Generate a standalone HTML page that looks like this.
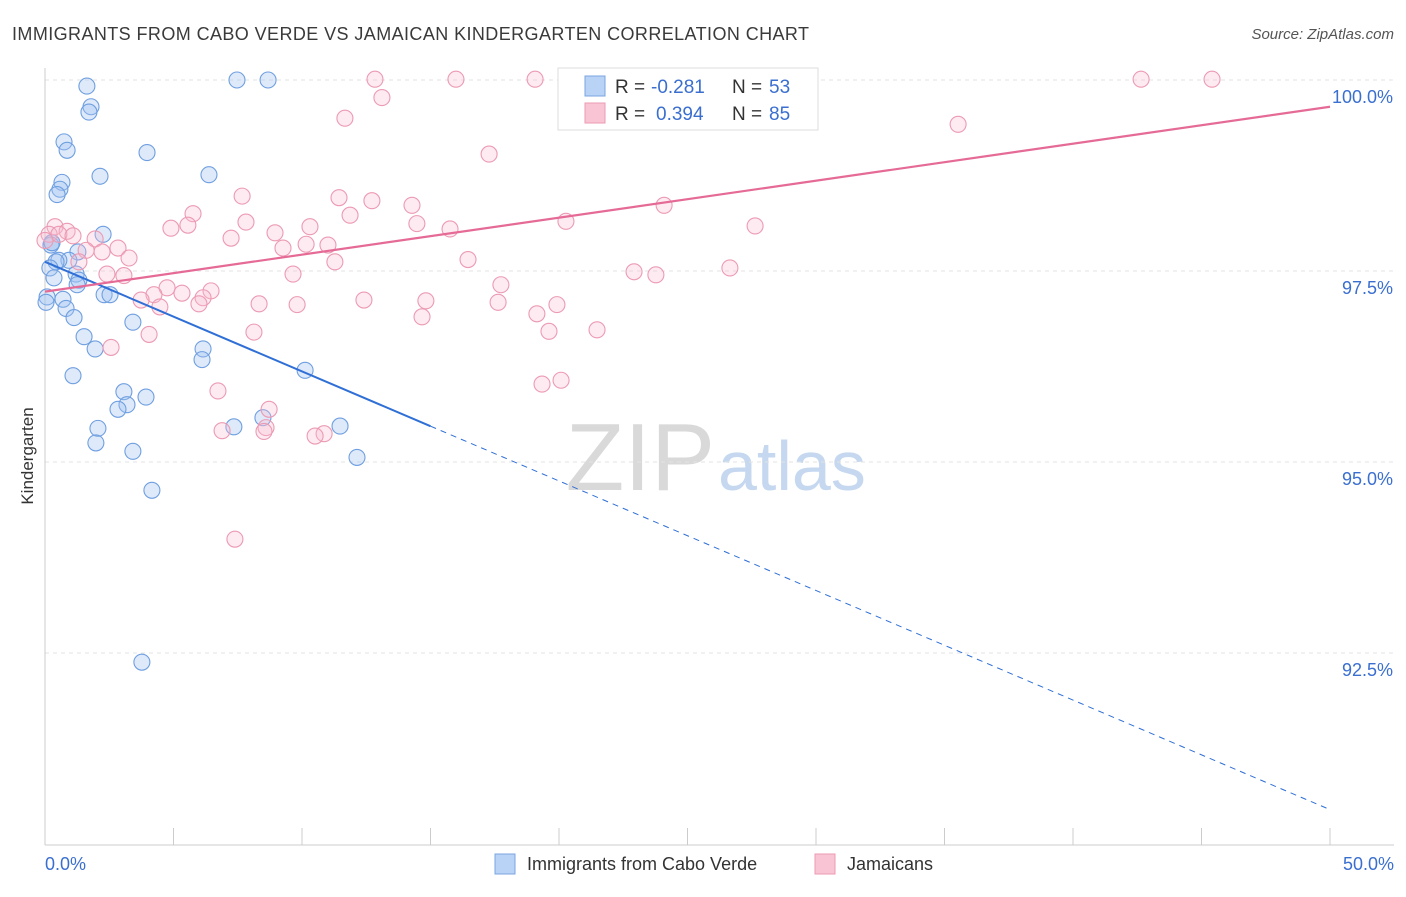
<!DOCTYPE html>
<html><head><meta charset="utf-8"><style>
body{margin:0;background:#fff;font-family:"Liberation Sans",sans-serif;}
svg text{font-family:"Liberation Sans",sans-serif;}
</style></head><body>
<svg id="c" width="1406" height="892" xmlns="http://www.w3.org/2000/svg">
<text x="12" y="40" font-size="18" fill="#3a3a3a" textLength="797" lengthAdjust="spacing">IMMIGRANTS FROM CABO VERDE VS JAMAICAN KINDERGARTEN CORRELATION CHART</text>
<text x="1394" y="39" font-size="15" fill="#555" font-style="italic" text-anchor="end">Source: ZipAtlas.com</text>
<text x="33" y="456" font-size="17" fill="#333" transform="rotate(-90 33 456)" text-anchor="middle">Kindergarten</text>
<text x="715" y="490" font-size="96" fill="#d9d9d9" text-anchor="end" font-family="Liberation Serif">ZIP</text>
<text x="718" y="490" font-size="70" fill="#c5d8f0">atlas</text>
<g id="grid"></g><g id="axes"></g><g id="marks"></g>
<g>
<rect x="558" y="68" width="260" height="62" fill="#fff" stroke="#ddd"/>
<rect x="585" y="76" width="20" height="20" fill="#b8d3f5" stroke="#7aa6e0"/>
<rect x="585" y="103" width="20" height="20" fill="#f9c5d4" stroke="#ec9ab3"/>
<text x="615" y="93" font-size="19" fill="#333">R =</text>
<text x="651" y="93" font-size="19" fill="#3a6fd0">-0.281</text>
<text x="732" y="93" font-size="19" fill="#333">N =</text>
<text x="769" y="93" font-size="19" fill="#3a6fd0">53</text>
<text x="615" y="120" font-size="19" fill="#333">R =</text>
<text x="656" y="120" font-size="19" fill="#3a6fd0">0.394</text>
<text x="732" y="120" font-size="19" fill="#333">N =</text>
<text x="769" y="120" font-size="19" fill="#3a6fd0">85</text>
</g>
<g>
<rect x="495" y="854" width="20" height="20" fill="#b8d3f5" stroke="#7aa6e0"/>
<text x="527" y="870" font-size="18" fill="#333">Immigrants from Cabo Verde</text>
<rect x="815" y="854" width="20" height="20" fill="#f9c5d4" stroke="#ec9ab3"/>
<text x="847" y="870" font-size="18" fill="#333">Jamaicans</text>
</g>
</svg>
<script>
const yTicks=[100,97.5,95,92.5];
const yTickLabels=["100.0%","97.5%","95.0%","92.5%"];
const xTickLabels=["0.0%","50.0%"];
const blueX=[1.63,7.47,8.68,1.79,1.71,0.74,0.86,3.97,6.38,2.14,0.66,0.58,0.47,2.26,0.27,0.23,1.28,0.93,0.54,0.43,0.19,1.21,0.35,1.32,1.25,2.30,2.53,0.08,0.70,0.04,0.82,1.13,3.42,1.52,1.95,6.15,6.11,10.12,1.09,3.07,3.93,3.19,2.84,8.48,2.06,7.35,11.48,1.98,3.42,12.14,4.16,3.77,0.27];
const blueY=[99.92,100,100,99.65,99.58,99.19,99.08,99.05,98.76,98.74,98.66,98.57,98.50,97.98,97.87,97.84,97.75,97.64,97.64,97.62,97.54,97.46,97.41,97.38,97.32,97.19,97.19,97.16,97.13,97.09,97.01,96.89,96.83,96.64,96.48,96.48,96.34,96.20,96.13,95.92,95.85,95.75,95.69,95.58,95.44,95.46,95.47,95.25,95.14,95.06,94.63,92.38,97.87];
const pinkX=[12.84,15.99,19.07,27.39,26.50,42.65,45.41,13.11,11.67,35.53,17.28,7.67,11.44,12.72,14.28,24.09,5.76,11.87,20.27,7.82,14.47,5.56,27.63,4.90,10.31,15.76,0.39,8.95,0.86,0.16,0.54,1.09,7.24,1.95,10.16,11.01,9.26,2.84,1.60,2.22,3.27,11.28,16.46,1.32,22.92,23.77,26.65,9.65,2.41,3.07,17.74,4.75,6.46,5.33,6.15,4.24,3.74,12.41,14.82,17.63,8.33,9.81,5.99,19.92,4.47,19.14,14.67,21.48,19.61,8.13,4.05,2.57,6.73,20.08,19.34,8.72,6.89,8.60,8.52,10.86,10.51,7.39,0];
const pinkY=[100.01,100.01,100.01,100,100.01,100.01,100.01,99.77,99.50,99.42,99.03,98.48,98.46,98.42,98.36,98.36,98.25,98.23,98.15,98.14,98.12,98.10,98.09,98.06,98.08,98.05,98.08,98.00,98.02,97.98,97.98,97.96,97.93,97.92,97.85,97.84,97.80,97.80,97.77,97.75,97.67,97.62,97.65,97.62,97.49,97.45,97.54,97.46,97.46,97.44,97.32,97.28,97.24,97.21,97.15,97.19,97.12,97.12,97.11,97.09,97.07,97.06,97.07,97.06,97.03,96.94,96.90,96.73,96.71,96.70,96.67,96.50,95.93,96.07,96.02,95.69,95.41,95.45,95.40,95.37,95.34,93.99,97.90];
const blueFit=[97.62,90.45];
const pinkFit=[97.23,99.65];
const NS="http://www.w3.org/2000/svg";
const X0=45,X1=1330,Y100=80,PX=191/2.5;
const xs=v=>X0+(v/50)*(X1-X0);
const ys=v=>Y100+(100-v)*PX;
function mk(t,a,p){const e=document.createElementNS(NS,t);for(const k in a)e.setAttribute(k,a[k]);document.getElementById(p).appendChild(e);return e;}
yTicks.forEach((t,i)=>{
 const g=mk('line',{x1:X0,x2:1394,y1:ys(t),y2:ys(t),stroke:'#e3e3e3','stroke-dasharray':'4,4'},'grid');
 
 
 const l=mk('text',{x:1393,y:ys(t)+23,'font-size':18,fill:'#3a6fd0','text-anchor':'end'},'axes');
 l.textContent=yTickLabels[i];
 
 
});
const ax=mk('line',{x1:X0,x2:X0,y1:68,y2:845,stroke:'#ccc'},'axes');


const bx=mk('line',{x1:X0,x2:1394,y1:845,y2:845,stroke:'#ccc'},'axes');


for(let i=0;i<=10;i++){const t=mk('line',{x1:xs(i*5),x2:xs(i*5),y1:828,y2:845,stroke:'#ccc'},'axes');
 
 }
[[0,'start',45],[50,'end',1394]].forEach((d,i)=>{const t=mk('text',{x:d[2],y:870,'font-size':18,fill:'#3a6fd0','text-anchor':d[1]},'axes');t.textContent=xTickLabels[i];
 
 });
blueX.forEach((v,i)=>{const c=mk('circle',{cx:xs(v),cy:ys(blueY[i]),r:8,fill:'rgba(160,196,240,0.35)',stroke:'#6f9fe0','stroke-width':1.1},'marks');
 
 });
pinkX.forEach((v,i)=>{const c=mk('circle',{cx:xs(v),cy:ys(pinkY[i]),r:8,fill:'rgba(248,190,208,0.3)',stroke:'#ec9ab3','stroke-width':1.1},'marks');
 
 });
const bAt=v=>blueFit[0]+(blueFit[1]-blueFit[0])*v/50;
const b1=mk('line',{x1:xs(0),y1:ys(bAt(0)),x2:xs(15),y2:ys(bAt(15)),stroke:'#2f6fd6','stroke-width':2},'marks');


const b2=mk('line',{x1:xs(15),y1:ys(bAt(15)),x2:xs(50),y2:ys(bAt(50)),stroke:'#2f6fd6','stroke-width':1,'stroke-dasharray':'6,5'},'marks');


const p1=mk('line',{x1:xs(0),y1:ys(pinkFit[0]),x2:xs(50),y2:ys(pinkFit[1]),stroke:'#e56a96','stroke-width':2.2},'marks');


</script>
</body></html>
